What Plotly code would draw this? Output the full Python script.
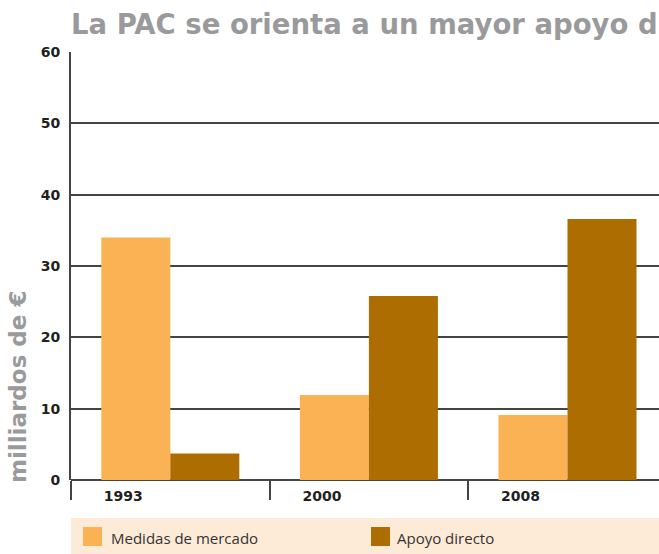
import plotly.graph_objects as go

# ---- data ----
years = ["1993", "2000", "2008"]
series_names = ["Medidas de mercado", "Apoyo directo"]
medidas_mercado = [34.0, 11.9, 9.1]
apoyo_directo = [3.7, 25.8, 36.6]
y_ticks = [0, 10, 20, 30, 40, 50, 60]
title_text = "La PAC se orienta a un mayor apoyo directo"
y_title = "milliardos de €"

# ---- styles ----
colors = ["#FAB254", "#AE6D00"]
W, H = 659, 554
ML, MR, MT, MB = 71, 0, 52, 74
PW, PH = W - ML - MR, H - MT - MB
axis_col = "#444444"


def px_x(px):
    return (px - ML) / PW


def px_y(py):
    return (H - MB - py) / PH


fig = go.Figure()
for name, vals, col in zip(series_names, [medidas_mercado, apoyo_directo], colors):
    fig.add_trace(go.Bar(x=years, y=vals, name=name, marker=dict(color=col, line=dict(width=0)),
                         showlegend=False, hoverinfo="x+y+name"))

fig.update_layout(
    width=W, height=H,
    margin=dict(l=ML, r=MR, t=MT, b=MB, pad=0),
    paper_bgcolor="white", plot_bgcolor="white",
    barmode="group", bargap=0.305, bargroupgap=0,
    title=dict(text=title_text, x=px_x(71), xref="paper", xanchor="left",
               y=1 - 24 / H, yref="container", yanchor="middle",
               font=dict(family="DejaVu Sans", size=27.5, color="#9A9A9C", weight="bold")),
    font=dict(family="DejaVu Sans", color="#231F20"),
)

fig.update_xaxes(
    type="category", range=[-0.5, -0.5 + PW / 198.6],
    showgrid=False, showline=False, zeroline=False,
    ticks="outside", tickson="boundaries", ticklen=19, tickwidth=2, tickcolor=axis_col,
    tickfont=dict(family="DejaVu Sans", size=14, color="#231F20", weight="bold"),
    ticklabelshift=-47, ticklabelstandoff=6,
)
fig.update_yaxes(
    range=[0, 60], tickvals=y_ticks, ticktext=[str(v) for v in y_ticks],
    showgrid=True, gridcolor=axis_col, gridwidth=2,
    zeroline=True, zerolinecolor=axis_col, zerolinewidth=2,
    showline=True, linecolor=axis_col, linewidth=2,
    ticks="", ticklabelstandoff=6,
    tickfont=dict(family="DejaVu Sans", size=14, color="#231F20", weight="bold"),
)

# y-axis title
fig.add_annotation(text=y_title, xref="paper", yref="paper", x=px_x(18), y=px_y(387),
                   xanchor="center", yanchor="middle", textangle=-90, showarrow=False,
                   font=dict(family="DejaVu Sans", size=23, color="#9A9A9C", weight="bold"))

# legend band
fig.add_shape(type="rect", xref="paper", yref="paper", x0=px_x(71), x1=px_x(W + 2),
              y0=px_y(518), y1=px_y(H + 2), fillcolor="#FDEBD8", line=dict(width=0), layer="below")
legend_pos = [(83, 109), (371, 395)]
for (sx, tx), name, col in zip(legend_pos, series_names, colors):
    fig.add_shape(type="rect", xref="paper", yref="paper", x0=px_x(sx), x1=px_x(sx + 19),
                  y0=px_y(527), y1=px_y(546), fillcolor=col, line=dict(width=0))
    fig.add_annotation(text=name, xref="paper", yref="paper", x=px_x(tx), y=px_y(538),
                       xanchor="left", yanchor="middle", showarrow=False,
                       font=dict(family="Open Sans", size=15, color="#333333"))

fig.write_html("out.html", config={"displayModeBar": False},
               post_script="document.body.style.margin='0';")
